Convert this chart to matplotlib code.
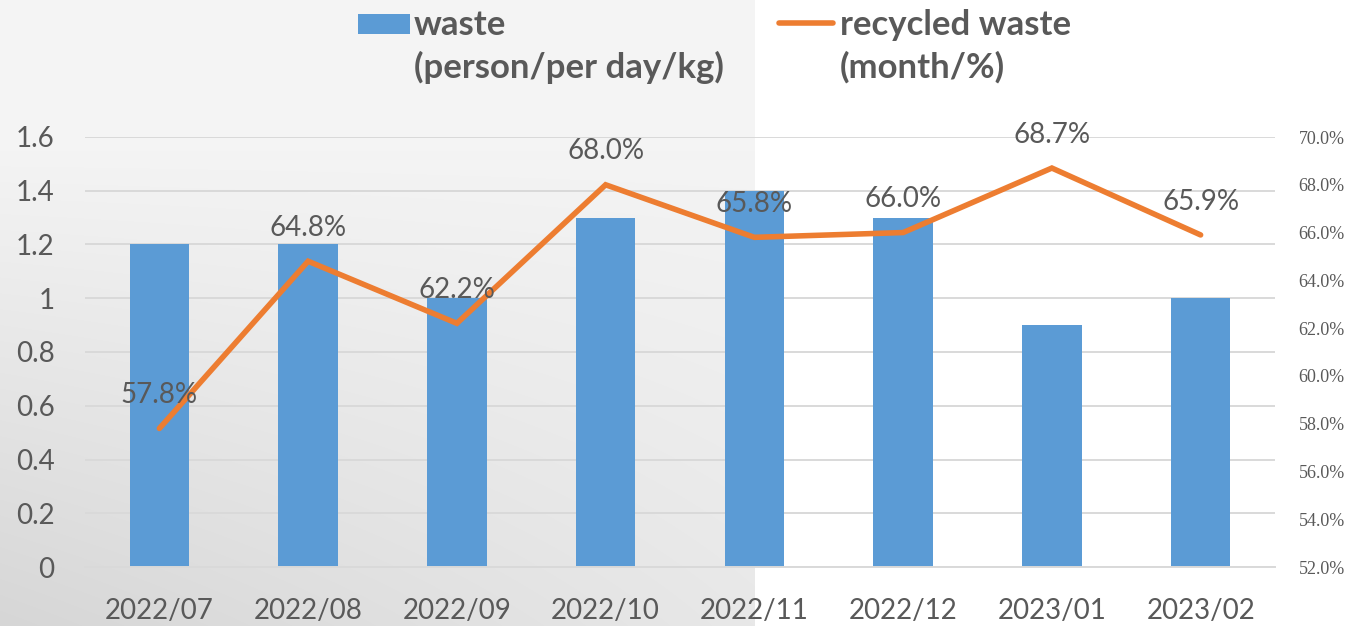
import numpy as np
import matplotlib
matplotlib.use("Agg")
import matplotlib.pyplot as plt
from matplotlib.patches import Rectangle
from matplotlib.lines import Line2D
from matplotlib.ticker import PercentFormatter

categories = ["2022/07", "2022/08", "2022/09", "2022/10", "2022/11", "2022/12", "2023/01", "2023/02"]
waste = [1.2, 1.2, 1.0, 1.3, 1.4, 1.3, 0.9, 1.0]
recycled = [57.8, 64.8, 62.2, 68.0, 65.8, 66.0, 68.7, 65.9]
left_ticks = [0, 0.2, 0.4, 0.6, 0.8, 1, 1.2, 1.4, 1.6]
left_tick_labels = ["0", "0.2", "0.4", "0.6", "0.8", "1", "1.2", "1.4", "1.6"]
right_ticks = [52, 54, 56, 58, 60, 62, 64, 66, 68, 70]
legend_bar_lines = ["waste", "(person/per day/kg)"]
legend_line_lines = ["recycled waste", "(month/%)"]

BAR = "#5B9BD5"
LINE = "#ED7D31"
TXT = "#595959"
GRID = "#D9D9D9"

W, H = 1358, 626
fig = plt.figure(figsize=(W / 100, H / 100), dpi=100)
fig.patch.set_facecolor("white")

# background: grey shaded panel on the left part
yy, xx = np.mgrid[0:H, 0:W]
t = np.clip((yy - 150) / (H - 150), 0, 1)
hx = np.clip(1 - 0.6 * xx / 755, 0, 1)
val = 244 - 30 * t * hx
val = np.where(xx < 755, val, 255) / 255.0
img = np.dstack([val, val, val])
bg = fig.add_axes([0, 0, 1, 1], zorder=-10)
bg.imshow(img, aspect="auto", extent=[0, 1, 0, 1], interpolation="bilinear")
bg.axis("off")

ax = fig.add_axes([85 / W, (H - 567) / H, (1275 - 85) / W, (567 - 137) / H])
ax.set_facecolor("none")
x = np.arange(len(categories))
ax.bar(x, waste, width=0.40, color=BAR, zorder=2)
ax.set_xlim(-0.5, len(categories) - 0.5)
ax.set_ylim(0, 1.6)
ax.set_yticks(left_ticks)
ax.set_yticklabels(left_tick_labels)
ax.set_xticks(x)
ax.set_xticklabels(categories)
ax.grid(axis="y", color=GRID, linewidth=1.4, zorder=0)
ax.set_axisbelow(True)
for s in ["top", "right", "left"]:
    ax.spines[s].set_visible(False)
ax.spines["bottom"].set_color(GRID)
ax.spines["bottom"].set_linewidth(1.4)
ax.tick_params(axis="both", length=0, colors=TXT)
ax.tick_params(axis="x", pad=22, labelsize=20)
ax.tick_params(axis="y", pad=22, labelsize=20)
for lab in ax.get_xticklabels() + ax.get_yticklabels():
    lab.set_fontfamily("Lato")
    lab.set_color(TXT)

ax2 = ax.twinx()
ax2.set_facecolor("none")
ax2.plot(x, recycled, color=LINE, linewidth=4, solid_capstyle="round", solid_joinstyle="miter", zorder=3)
ax2.set_ylim(52, 70)
ax2.set_yticks(right_ticks)
ax2.yaxis.set_major_formatter(PercentFormatter(decimals=1))
for s in ["top", "right", "left", "bottom"]:
    ax2.spines[s].set_visible(False)
ax2.tick_params(axis="y", length=0, pad=17, labelsize=13, colors=TXT)
for lab in ax2.get_yticklabels():
    lab.set_fontfamily("Liberation Serif")
for xi, v in zip(x, recycled):
    ax2.annotate(f"{v:.1f}%", (xi, v), xytext=(0, 24), textcoords="offset points",
                 ha="center", va="center", fontsize=20, family="Lato", color=TXT, zorder=4)

# legend (manual, Excel-like)
fig.add_artist(Rectangle((358 / W, 1 - 34 / H), 52 / W, 20.5 / H, transform=fig.transFigure,
                         facecolor=BAR, edgecolor="none"))
fig.add_artist(Line2D([779 / W, 833 / W], [1 - 23.3 / H, 1 - 23.3 / H], transform=fig.transFigure,
                      color=LINE, linewidth=4, solid_capstyle="round"))
for xs, lines in [(414, legend_bar_lines), (840, legend_line_lines)]:
    for base, s in zip([35, 78], lines):
        fig.text(xs / W, 1 - base / H, s, transform=fig.transFigure, ha="left", va="baseline",
                 fontsize=25, fontweight="bold", family="Lato", color=TXT)

fig.savefig("out.png", dpi=100)
